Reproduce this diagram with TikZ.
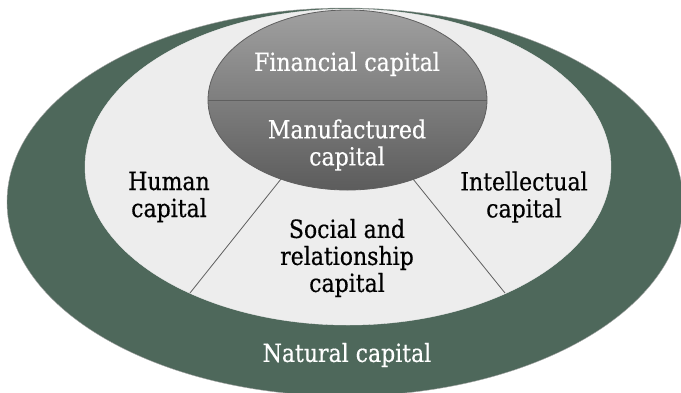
\documentclass[tikz,border=0pt]{standalone}
\usepackage{fontspec}
\setmainfont{DejaVu Serif}[FakeStretch=0.88,FakeBold=0.5]
\usetikzlibrary{shapes.geometric}
\definecolor{natgreen}{HTML}{4E685B}
\definecolor{innergray}{HTML}{EDEDED}
\definecolor{topgray}{HTML}{A0A0A0}
\definecolor{botgray}{HTML}{5C5C5C}
\definecolor{edgegray}{HTML}{5F5F5F}
\tikzset{
  oval/.style={ellipse, inner sep=0pt, outer sep=0pt},
  lbl/.style={align=center, font=\fontsize{25}{27}\selectfont, inner sep=0pt},
  divline/.style={draw=edgegray, line width=0.8pt}
}
\begin{document}
\begin{tikzpicture}[x=1pt,y=-1pt]
\useasboundingbox (0,0) rectangle (681,392);
\clip (0,0) rectangle (681,392);
\fill[white] (0,0) rectangle (681,392);
\node[oval, fill=natgreen, draw=gray!70, line width=0.4pt, minimum width=676pt, minimum height=388pt] (outer) at (345,202) {};
\node[oval, fill=innergray, draw=white!85!gray, line width=0.4pt, minimum width=526pt, minimum height=316pt] (inner) at (348,167) {};
\coordinate (l1) at (281,179);
\coordinate (l2) at (190,293);
\coordinate (r1) at (413,179);
\coordinate (r2) at (505,293);
\draw[divline] (l1) -- (l2);
\draw[divline] (r1) -- (r2);
\node[oval, top color=topgray, bottom color=botgray, draw=edgegray, line width=0.8pt, minimum width=279pt, minimum height=180pt] (core) at (347.5,100) {};
\draw[divline] (core.west) -- (core.east);
\node[lbl, text=white] (fin) at (347,64) {Financial capital};
\node[lbl, text=white] (man) at (347,145) {Manufactured\\capital};
\node[lbl] (hum) at (169,197) {Human\\capital};
\node[lbl] (int) at (524,197) {Intellectual\\capital};
\node[lbl] (soc) at (347,258) {Social and\\relationship\\capital};
\node[lbl, text=white] (nat) at (347,355) {Natural capital};
\end{tikzpicture}
\end{document}
